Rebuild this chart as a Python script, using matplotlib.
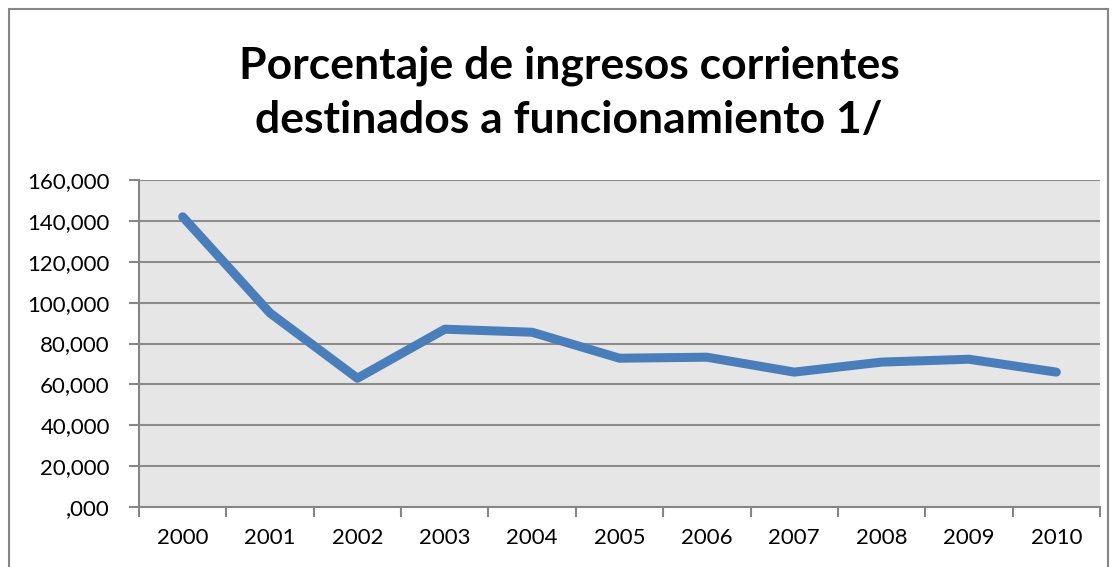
import numpy as np
import matplotlib.pyplot as plt
from matplotlib.patches import Rectangle

# datos
years = ["2000", "2001", "2002", "2003", "2004", "2005",
         "2006", "2007", "2008", "2009", "2010"]
valores = [142000, 94900, 63000, 87000, 85500, 72800,
           73300, 66000, 70900, 72300, 66000]
y_ticks = [0, 20000, 40000, 60000, 80000, 100000, 120000, 140000, 160000]
y_labels = [",000", "20,000", "40,000", "60,000", "80,000",
            "100,000", "120,000", "140,000", "160,000"]
titulo = "Porcentaje de ingresos corrientes\ndestinados a funcionamiento 1/"

plt.rcParams['font.family'] = ['Lato', 'DejaVu Sans']

fig = plt.figure(figsize=(11.17, 5.67), dpi=100)
# marco del área del gráfico
fig.patches.append(Rectangle((9 / 1117, -0.05), 1099 / 1117, 1.05 - 9 / 567,
                             transform=fig.transFigure, fill=False,
                             edgecolor='#868686', linewidth=1.5))

ax = fig.add_axes([139 / 1117, 1 - 507 / 567, (1100 - 139) / 1117, (507 - 180) / 567])
ax.set_facecolor('#e6e6e6')

x = np.arange(len(years))
ax.plot(x, valores, color='#4a7ebb', linewidth=6.5, solid_capstyle='round',
        solid_joinstyle='round', zorder=3)

ax.set_xlim(-0.5, len(years) - 0.5)
ax.set_ylim(0, 160000)
ax.set_yticks(y_ticks)
ax.set_yticklabels(y_labels)
ax.yaxis.grid(True, color='#8c8c8c', linewidth=1.5)
ax.set_axisbelow(True)

# ticks entre categorías, etiquetas centradas
ax.set_xticks(np.arange(len(years) + 1) - 0.5)
ax.set_xticklabels([])
ax.set_xticks(x, minor=True)
ax.set_xticklabels(years, minor=True)
ax.tick_params(axis='x', which='major', length=7, width=1.5, color='#868686', direction='out')
ax.tick_params(axis='x', which='minor', length=0, pad=15, labelsize=16)
ax.tick_params(axis='y', length=7, width=1.5, color='#868686', pad=14, labelsize=16)

for s in ['top', 'right']:
    ax.spines[s].set_visible(False)
for s in ['left', 'bottom']:
    ax.spines[s].set_color('#868686')
    ax.spines[s].set_linewidth(1.5)

fig.text(569 / 1117, 1 - 93 / 567, titulo, ha='center', va='center',
         fontsize=32, fontweight='bold', linespacing=1.42)

plt.savefig("out.png", dpi=100)
